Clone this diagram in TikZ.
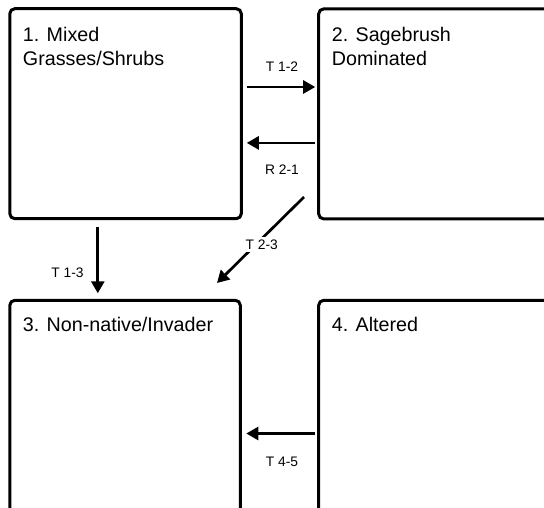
\documentclass[tikz,border=0pt]{standalone}
\usepackage{fontspec}
\setmainfont{Liberation Sans}
\usetikzlibrary{arrows.meta,calc}
\tikzset{
  box/.style={draw=black, line width=3pt, rounded corners=5pt, outer sep=0pt, inner sep=0pt, anchor=north west},
  boxtext/.style={inner sep=0pt, align=left, anchor=base west, font=\fontsize{19.7}{24}\selectfont},
  lbl/.style={inner sep=1pt, anchor=base, font=\fontsize{13.8}{16}\selectfont},
  arr/.style={line width=2.7pt, -{Triangle[length=12pt,width=13pt]}}
}
\begin{document}
\begin{tikzpicture}[x=1pt,y=-1pt]
\useasboundingbox (0,0) rectangle (544,508);
\clip (0,0) rectangle (544,508);
\node[box, minimum width=231.5pt, minimum height=210pt] (b1) at (9.8,8.7) {};
\node[box, minimum width=260pt, minimum height=210pt] (b2) at (318.7,8.9) {};
\node[box, minimum width=230.5pt, minimum height=240pt] (b3) at (9.8,300.3) {};
\node[box, minimum width=260pt, minimum height=240pt] (b4) at (318.7,300.3) {};
% multi-line nodes anchor on their last line
\node[boxtext] (t1) at ($(b1.north west)+(13,57)$) {1. Mixed\\Grasses/Shrubs};
\node[boxtext] (t2) at ($(b2.north west)+(13,57)$) {2. Sagebrush\\Dominated};
\node[boxtext] (t3) at ($(b3.north west)+(13,31.5)$) {3. Non-native/Invader};
\node[boxtext] (t4) at ($(b4.north west)+(13,31.5)$) {4. Altered};
% connectors
\coordinate (a12s) at ($(b1.north east)+(5.5,78.3)$);
\coordinate (a12e) at ($(b2.north west)+(-3.5,78.1)$);
\draw[arr] (a12s) -- (a12e);
\coordinate (r21s) at ($(b2.north west)+(-3.5,134)$);
\coordinate (r21e) at ($(b1.north east)+(5.5,134.2)$);
\draw[arr] (r21s) -- (r21e);
\coordinate (a13s) at ($(b1.south west)+(88,8.3)$);
\coordinate (a13e) at ($(b3.north west)+(88,-7)$);
\draw[arr] (a13s) -- (a13e);
\coordinate (a23s) at ($(b2.south west)+(-14.7,-21.9)$);
\coordinate (a23e) at ($(b3.north east)+(-23.3,-17.3)$);
\draw[arr] (a23s) -- (a23e);
\coordinate (a45s) at ($(b4.north west)+(-3.5,133.2)$);
\coordinate (a45e) at ($(b3.north east)+(6,133.2)$);
\draw[arr] (a45s) -- (a45e);
% labels
\node[lbl] (l12) at (282,71.7) {T 1-2};
\node[lbl] (l21) at (282,175) {R 2-1};
\node[lbl] (l13) at (67.5,277) {T 1-3};
\node[lbl, fill=white, inner sep=3pt] (l23) at (261.7,249.3) {T 2-3};
\node[lbl] (l45) at (282,466) {T 4-5};
\end{tikzpicture}
\end{document}
